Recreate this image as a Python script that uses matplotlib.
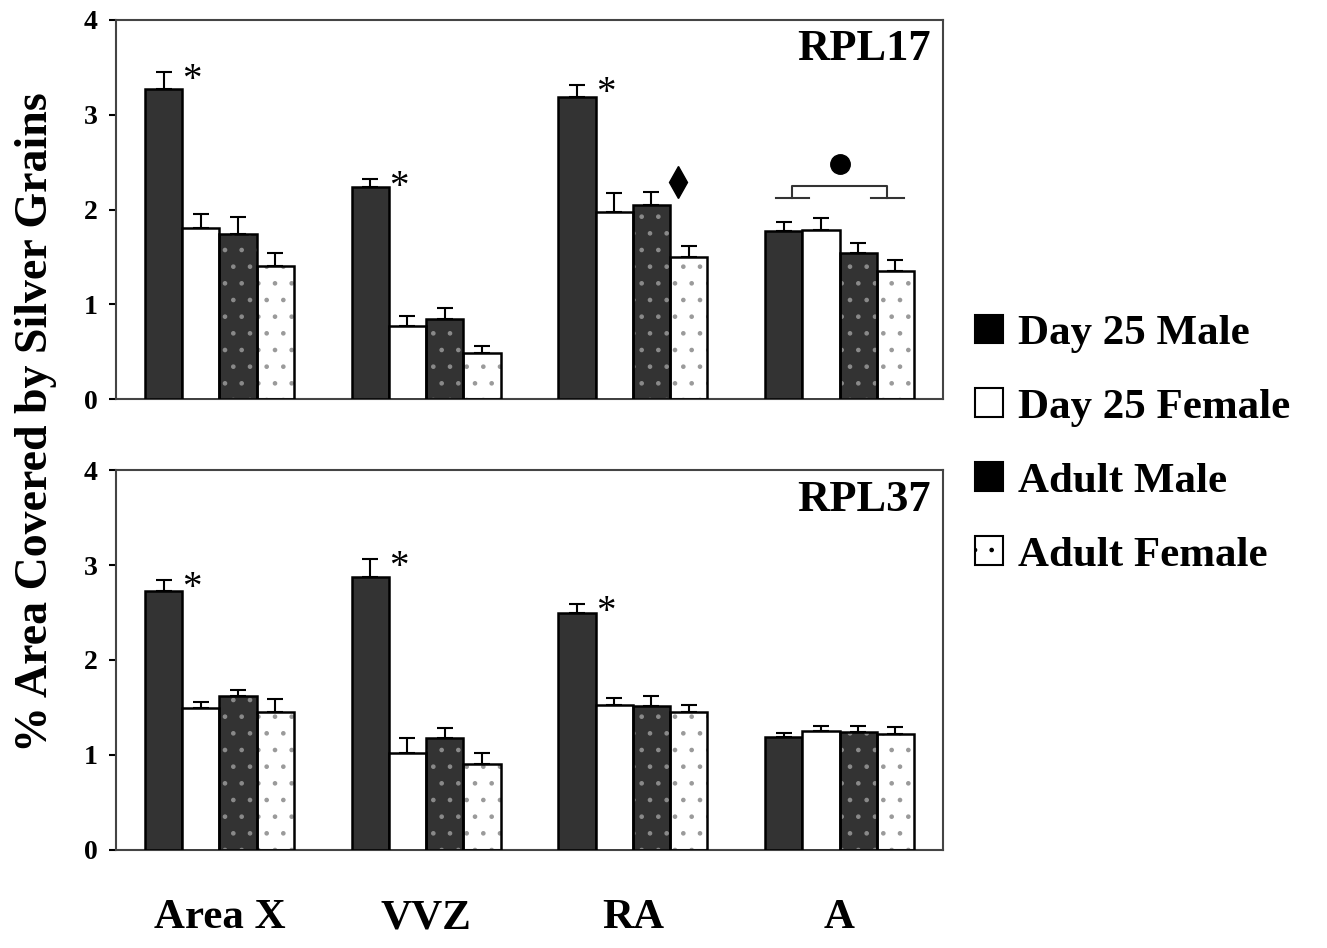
import numpy as np
import matplotlib.pyplot as plt
from matplotlib.patches import Patch

plt.rcParams['font.family'] = ['Liberation Serif', 'DejaVu Serif']
plt.rcParams['font.weight'] = 'bold'
plt.rcParams['hatch.linewidth'] = 0.9

regions = ["Area X", "VVZ", "RA", "A"]
groups = ["Day 25 Male", "Day 25 Female", "Adult Male", "Adult Female"]

# RPL17 means and SEM (one list per group, order of regions)
rpl17_mean = {
    "Day 25 Male":   [3.27, 2.24, 3.19, 1.77],
    "Day 25 Female": [1.81, 0.77, 1.97, 1.78],
    "Adult Male":    [1.74, 0.85, 2.05, 1.54],
    "Adult Female":  [1.40, 0.49, 1.50, 1.35],
}
rpl17_sem = {
    "Day 25 Male":   [0.18, 0.08, 0.12, 0.10],
    "Day 25 Female": [0.14, 0.11, 0.20, 0.13],
    "Adult Male":    [0.18, 0.11, 0.13, 0.11],
    "Adult Female":  [0.14, 0.07, 0.12, 0.12],
}
rpl37_mean = {
    "Day 25 Male":   [2.73, 2.87, 2.49, 1.19],
    "Day 25 Female": [1.49, 1.02, 1.53, 1.25],
    "Adult Male":    [1.62, 1.18, 1.52, 1.24],
    "Adult Female":  [1.45, 0.91, 1.45, 1.22],
}
rpl37_sem = {
    "Day 25 Male":   [0.11, 0.19, 0.10, 0.04],
    "Day 25 Female": [0.07, 0.16, 0.07, 0.05],
    "Adult Male":    [0.06, 0.10, 0.10, 0.07],
    "Adult Female":  [0.14, 0.11, 0.08, 0.07],
}

dark = "#333333"
styles = {
    "Day 25 Male":   (dark, None),
    "Day 25 Female": ("white", None),
    "Adult Male":    (dark, "."),
    "Adult Female":  ("white", "."),
}
hatch_col = {"Adult Male": "#8a8a8a", "Adult Female": "#9a9a9a"}

x = np.arange(len(regions))
w = 0.18
offs = (np.arange(4) - 1.5) * w

fig = plt.figure(figsize=(13.27, 9.48), dpi=100)
ax1 = fig.add_axes([0.0874, 0.579, 0.6232, 0.400])
ax2 = fig.add_axes([0.0874, 0.1034, 0.6232, 0.4008])


def draw(ax, means, sems, title):
    for i, g in enumerate(groups):
        fc, h = styles[g]
        xs = x + offs[i]
        m = np.array(means[g])
        s = np.array(sems[g])
        ax.errorbar(xs, m, yerr=[np.zeros_like(s), s], fmt="none",
                    ecolor="black", elinewidth=1.5, capsize=6, capthick=1.5, zorder=1)
        if h:
            ax.bar(xs, m, w, color=fc, hatch=h, edgecolor=hatch_col[g],
                   linewidth=0, zorder=2)
            ax.bar(xs, m, w, fill=False, edgecolor="black", linewidth=1.8, zorder=3)
        else:
            ax.bar(xs, m, w, color=fc, edgecolor="black", linewidth=1.8, zorder=3)
    ax.set_xlim(-0.5, 3.5)
    ax.set_ylim(0, 4)
    ax.set_yticks([0, 1, 2, 3, 4])
    ax.set_xticks([])
    ax.tick_params(axis="y", direction="out", length=5, width=1.5, labelsize=20, pad=8)
    for sp in ax.spines.values():
        sp.set_linewidth(1.5)
        sp.set_color("#444444")
    ax.text(0.985, 0.975, title, transform=ax.transAxes, ha="right", va="top",
            fontsize=32, fontweight="bold")


draw(ax1, rpl17_mean, rpl17_sem, "RPL17")
draw(ax2, rpl37_mean, rpl37_sem, "RPL37")

# significance marks
male = "Day 25 Male"
for ax, means, sems in [(ax1, rpl17_mean, rpl17_sem), (ax2, rpl37_mean, rpl37_sem)]:
    for j in [0, 1, 2]:
        top = means[male][j] + sems[male][j]
        ax.text(x[j] + offs[0] + w * 0.5, top - 0.09, "*", fontsize=28,
                fontweight="normal", ha="left", va="center")

# diamond over RA adult male
ax1.plot(x[2] + offs[2] + w * 0.72, rpl17_mean["Adult Male"][2] + 0.24, marker="d",
         color="black", markersize=16)
# bracket over A
bx = x[3]
yb = 2.12
yt = 2.25
ax1.plot([bx + offs[0] - 0.04, bx + offs[0] + 0.12], [yb, yb], color="#333333", lw=1.5)
ax1.plot([bx + offs[3] - 0.12, bx + offs[3] + 0.04], [yb, yb], color="#333333", lw=1.5)
ax1.plot([bx + offs[0] + 0.04, bx + offs[0] + 0.04, bx + offs[3] - 0.04, bx + offs[3] - 0.04],
         [yb, yt, yt, yb], color="#333333", lw=1.5)
ax1.plot(bx, 2.48, marker="o", color="black", markersize=14)

# region labels under bottom panel
for j, r in enumerate(regions):
    ax2.text(x[j], -0.72, r, ha="center", va="center", fontsize=31, fontweight="bold")

fig.text(0.027, 0.555, "% Area Covered by Silver Grains", rotation=90, ha="center",
         va="center", fontsize=33, fontweight="bold")

handles = []
for g in groups:
    fc, h = styles[g]
    handles.append(Patch(facecolor="black" if fc == dark else fc, edgecolor="black",
                         hatch=h, linewidth=1.5))
fig.legend(handles, groups, loc="center left", bbox_to_anchor=(0.722, 0.531),
           frameon=False, fontsize=31, handlelength=0.65, handleheight=0.65,
           handletextpad=0.35, labelspacing=0.82, borderaxespad=0)

fig.savefig("out.png", dpi=100)
